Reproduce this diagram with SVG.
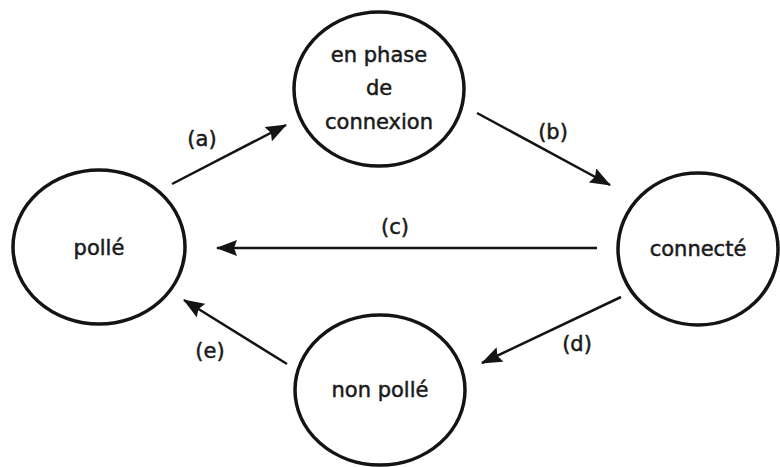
<svg xmlns="http://www.w3.org/2000/svg" width="780" height="467" viewBox="0 0 780 467">
<style>
.node{fill:none;stroke:#141414;stroke-width:3.5}
.t{font-family:"DejaVu Sans",sans-serif;font-size:21px;fill:#1a1a1a;stroke:#1a1a1a;stroke-width:0.5;text-anchor:middle}
.edge{stroke:#141414;stroke-width:2.5;fill:none;marker-end:url(#ah)}
</style>
<defs>
<marker id="ah" markerUnits="userSpaceOnUse" markerWidth="22" markerHeight="16" refX="20" refY="8" orient="auto">
<path d="M0,0 L21,8 L0,16 L3,8 z" fill="#141414"/>
</marker>
</defs>
<rect width="780" height="467" fill="#fff"/>
<g id="connectors">
<line class="edge" x1="172" y1="184" x2="286" y2="125"/>
<line class="edge" x1="477" y1="113" x2="610" y2="185"/>
<line class="edge" x1="597" y1="248" x2="217" y2="248"/>
<line class="edge" x1="621" y1="297" x2="482" y2="363"/>
<line class="edge" x1="287" y1="364" x2="184" y2="300"/>
<text class="t" x="202" y="146">(a)</text>
<text class="t" x="553" y="139">(b)</text>
<text class="t" x="395" y="234">(c)</text>
<text class="t" x="577" y="351">(d)</text>
<text class="t" x="210" y="358">(e)</text>
</g>
<g id="node-connexion">
<ellipse class="node" cx="379" cy="89" rx="85" ry="77"/>
<text class="t" x="379" y="62">en phase</text>
<text class="t" x="379" y="95">de</text>
<text class="t" x="379" y="129">connexion</text>
</g>
<g id="node-polle">
<ellipse class="node" cx="99" cy="247" rx="86" ry="77"/>
<text class="t" x="99" y="255">pollé</text>
</g>
<g id="node-connecte">
<ellipse class="node" cx="698" cy="249" rx="80" ry="76"/>
<text class="t" x="698" y="256">connecté</text>
</g>
<g id="node-nonpolle">
<ellipse class="node" cx="380" cy="390" rx="85" ry="75"/>
<text class="t" x="380" y="397">non pollé</text>
</g>
</svg>
